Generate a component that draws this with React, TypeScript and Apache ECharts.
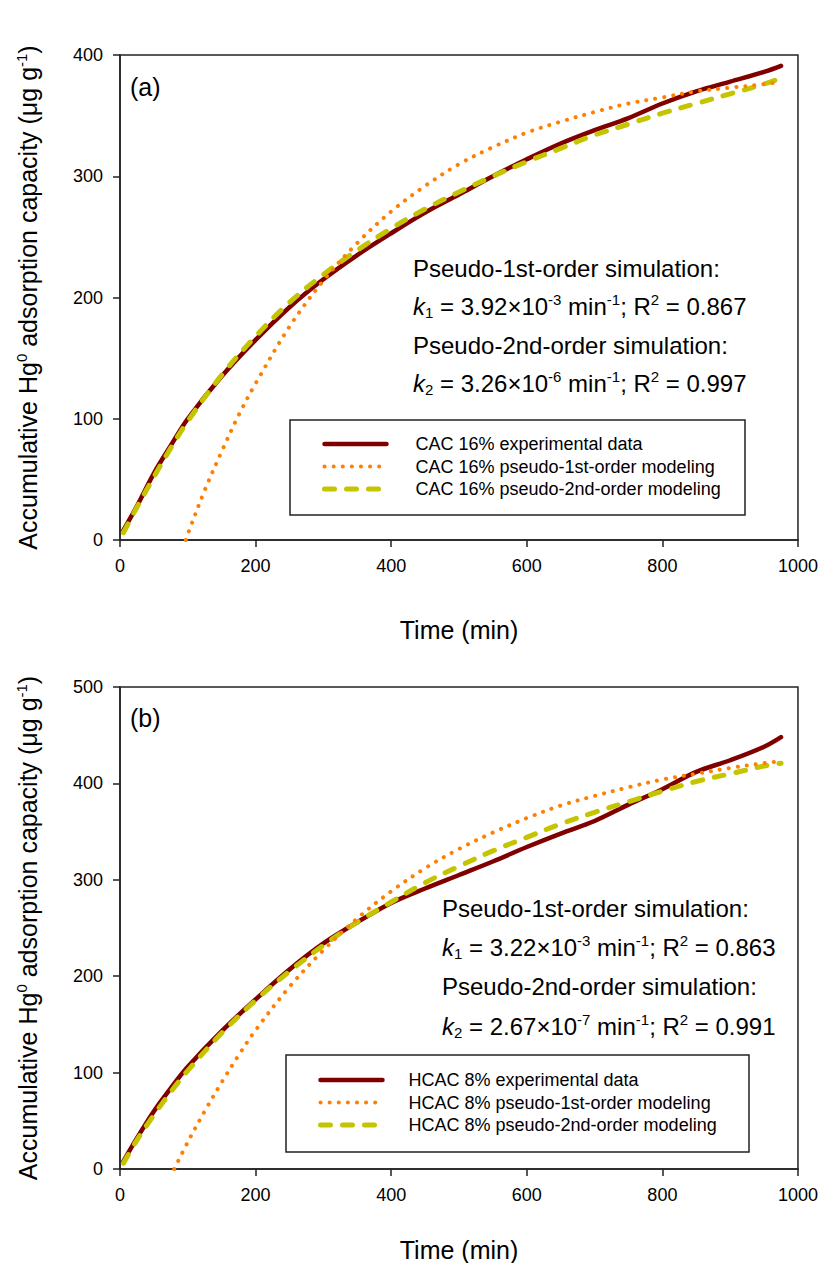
import React, { useEffect, useRef } from "react";
import * as echarts from "echarts";

// ---------- data ----------
const TIME = [5, 25, 50, 75, 100, 150, 200, 250, 300, 350, 400, 450, 500, 550, 600, 650, 700, 750, 800, 850, 900, 950, 975];

const CAC_EXP = [8, 28, 55, 78, 100, 135, 165, 192, 215, 235, 253, 270, 285, 300, 314, 327, 338, 348, 360, 370, 378, 386, 391];
const CAC_PSO2 = [6, 27, 52, 76, 98, 136, 168, 196, 219, 239, 257, 273, 287, 300, 312, 323, 334, 343, 352, 360, 368, 376, 381];
const CAC_PSO1_TIME = [97, 100, 125, 150, 175, 200, 250, 300, 350, 400, 450, 500, 550, 600, 650, 700, 750, 800, 850, 900, 950, 975];
const CAC_PSO1 = [0, 5, 41, 73, 103, 129, 176, 214, 245, 271, 292, 310, 324, 336, 345, 353, 360, 365, 370, 373, 376, 378];

const HCAC_EXP = [8, 32, 60, 84, 106, 143, 176, 207, 234, 256, 276, 291, 305, 319, 334, 348, 361, 378, 394, 412, 424, 438, 448];
const HCAC_PSO2 = [6, 30, 56, 80, 102, 141, 175, 205, 232, 256, 277, 297, 314, 330, 344, 358, 370, 381, 392, 402, 410, 418, 421];
const HCAC_PSO1_TIME = [80, 100, 125, 150, 175, 200, 250, 300, 350, 400, 450, 500, 550, 600, 650, 700, 750, 800, 850, 900, 950, 975];
const HCAC_PSO1 = [0, 28, 60, 90, 118, 144, 189, 227, 260, 288, 312, 332, 349, 364, 377, 387, 396, 404, 410, 416, 421, 423];

const X_TICKS = { min: 0, max: 1000, interval: 200 };
const Y_A = { min: 0, max: 400, interval: 100 };
const Y_B = { min: 0, max: 500, interval: 100 };

const NAMES_A = ["CAC 16% experimental data", "CAC 16% pseudo-1st-order modeling", "CAC 16% pseudo-2nd-order modeling"];
const NAMES_B = ["HCAC 8% experimental data", "HCAC 8% pseudo-1st-order modeling", "HCAC 8% pseudo-2nd-order modeling"];

const ANNOT_A = ["3.92", "-3", "0.867", "3.26", "-6", "0.997"];
const ANNOT_B = ["3.22", "-3", "0.863", "2.67", "-7", "0.991"];

// ---------- styles ----------
const FONT = "'Liberation Sans', Arial, Helvetica, sans-serif";
const RED = "#800000";
const ORANGE = "#ff8000";
const OLIVE = "#c4c400";
const AXIS = "#222";

const pairs = (t: number[], v: number[]) => t.map((x, i) => [x, v[i]]);

const styleExp = { color: RED, width: 4.5, type: "solid" as const, cap: "round" as const };
const styleP1 = { color: ORANGE, width: 4, type: [0.1, 9] as number[], cap: "round" as const };
const styleP2 = { color: OLIVE, width: 5, type: [10, 12] as number[], cap: "round" as const };

const richBase = {
  n: { fontSize: 24, fontFamily: FONT, color: "#000", lineHeight: 28 },
  i: { fontSize: 24, fontFamily: FONT, color: "#000", fontStyle: "italic", lineHeight: 28 },
  sub: { fontSize: 15, fontFamily: FONT, color: "#000", verticalAlign: "bottom", lineHeight: 15 },
  sup: { fontSize: 15, fontFamily: FONT, color: "#000", verticalAlign: "top", lineHeight: 15 },
};

function kLine(idx: string, k: string, exp: string, r2: string) {
  return `{i|k}{sub|${idx}}{n| = ${k}×10}{sup|${exp}}{n| min}{sup|-1}{n|; R}{sup|2}{n| = ${r2}}`;
}

function annot(x: number, ys: number[], a: string[]) {
  const mk = (y: number, text: string) => ({
    type: "text",
    x,
    y,
    z: 100,
    style: { text, rich: richBase, textVerticalAlign: "middle", fill: "#000", font: `24px ${FONT}` },
  });
  return [
    mk(ys[0], "{n|Pseudo-1st-order simulation:}"),
    mk(ys[1], kLine("1", a[0], a[1], a[2])),
    mk(ys[2], "{n|Pseudo-2nd-order simulation:}"),
    mk(ys[3], kLine("2", a[3], a[4], a[5])),
  ];
}

function xAxis(gridIndex: number, gap: number) {
  return {
    gridIndex,
    type: "value",
    ...X_TICKS,
    axisLine: { show: true, onZero: false, lineStyle: { color: AXIS, width: 1.5 } },
    axisTick: { show: true, inside: false, length: 7, lineStyle: { color: AXIS, width: 1.5 } },
    axisLabel: { fontSize: 18, color: "#000", margin: 17, fontFamily: FONT, formatter: (v: number) => String(v) },
    splitLine: { show: false },
    name: "Time (min)",
    nameLocation: "middle",
    nameGap: gap,
    nameTextStyle: { fontSize: 25, color: "#000", fontFamily: FONT },
  };
}

const yName = "{n|Accumulative Hg}{s|0}{n| adsorption capacity (μg g}{s|-1}{n|)}";

function yAxis(gridIndex: number, range: any) {
  return {
    gridIndex,
    type: "value",
    ...range,
    axisLine: { show: true, onZero: false, lineStyle: { color: AXIS, width: 1.5 } },
    axisTick: { show: true, inside: false, length: 7, lineStyle: { color: AXIS, width: 1.5 } },
    axisLabel: { fontSize: 18, color: "#000", margin: 17, fontFamily: FONT, formatter: (v: number) => String(v) },
    splitLine: { show: false },
    name: yName,
    nameLocation: "middle",
    nameRotate: 90,
    nameGap: 78,
    nameTextStyle: {
      rich: {
        n: { fontSize: 25, color: "#000", fontFamily: FONT, lineHeight: 28 },
        s: { fontSize: 15, color: "#000", fontFamily: FONT, verticalAlign: "top", lineHeight: 15 },
      },
    },
  };
}

function series(names: string[], idx: number, exp: number[], p1t: number[], p1: number[], p2: number[]) {
  const common = { type: "line", xAxisIndex: idx, yAxisIndex: idx, showSymbol: false, symbol: "none", smooth: 0.35 };
  return [
    { ...common, name: names[0], data: pairs(TIME, exp), lineStyle: styleExp, itemStyle: { color: RED }, z: 2 },
    { ...common, name: names[2], data: pairs(TIME, p2), lineStyle: styleP2, itemStyle: { color: OLIVE }, z: 3 },
    { ...common, name: names[1], data: pairs(p1t, p1), lineStyle: styleP1, itemStyle: { color: ORANGE }, z: 4 },
  ];
}

const hiddenSymbol = { color: "rgba(0,0,0,0)", borderWidth: 0, opacity: 0 };

function legend(names: string[], left: number, top: number, textPad: number) {
  return {
    orient: "vertical",
    left,
    top,
    padding: 0,
    itemWidth: 62,
    itemHeight: 14,
    itemGap: 4.5,
    selectedMode: false,
    textStyle: { fontSize: 18, color: "#000", fontFamily: FONT, padding: [0, 0, 0, textPad] },
    data: [
      { name: names[0], lineStyle: styleExp, itemStyle: hiddenSymbol },
      { name: names[1], lineStyle: styleP1, itemStyle: hiddenSymbol },
      { name: names[2], lineStyle: styleP2, itemStyle: hiddenSymbol },
    ],
  };
}

export default function App() {
  const ref = useRef<HTMLDivElement>(null);
  useEffect(() => {
    document.body.style.margin = "0";
    if (!ref.current) return;
    const chart = echarts.init(ref.current, null, { renderer: "svg" });
    const option: any = {
      animation: false,
      backgroundColor: "#fff",
      grid: [
        { left: 120, top: 55, width: 679, height: 485, show: true, borderColor: AXIS, borderWidth: 1.5, backgroundColor: "transparent" },
        { left: 120, top: 687, width: 679, height: 485, show: true, borderColor: AXIS, borderWidth: 1.5, backgroundColor: "transparent" },
      ],
      xAxis: [xAxis(0, 77), xAxis(1, 68)],
      yAxis: [yAxis(0, Y_A), yAxis(1, Y_B)],
      legend: [legend(NAMES_A, 322, 435, 24), legend(NAMES_B, 318, 1071, 21)],
      series: [
        ...series(NAMES_A, 0, CAC_EXP, CAC_PSO1_TIME, CAC_PSO1, CAC_PSO2),
        ...series(NAMES_B, 1, HCAC_EXP, HCAC_PSO1_TIME, HCAC_PSO1, HCAC_PSO2),
      ],
      graphic: [
        { type: "rect", shape: { x: 290, y: 420, width: 455, height: 95 }, style: { fill: "none", stroke: AXIS, lineWidth: 1.5 }, z: 50 },
        { type: "rect", shape: { x: 286, y: 1055, width: 463, height: 97 }, style: { fill: "none", stroke: AXIS, lineWidth: 1.5 }, z: 50 },
        { type: "text", x: 130, y: 87, z: 100, style: { text: "(a)", font: `25px ${FONT}`, fill: "#000", textVerticalAlign: "middle" } },
        { type: "text", x: 130, y: 718, z: 100, style: { text: "(b)", font: `25px ${FONT}`, fill: "#000", textVerticalAlign: "middle" } },
        ...annot(413, [268, 306, 345, 383], ANNOT_A),
        ...annot(442, [908, 947, 986, 1026], ANNOT_B),
      ],
    };
    chart.setOption(option);
    return () => chart.dispose();
  }, []);
  return <div ref={ref} style={{ width: 821, height: 1263 }} />;
}
